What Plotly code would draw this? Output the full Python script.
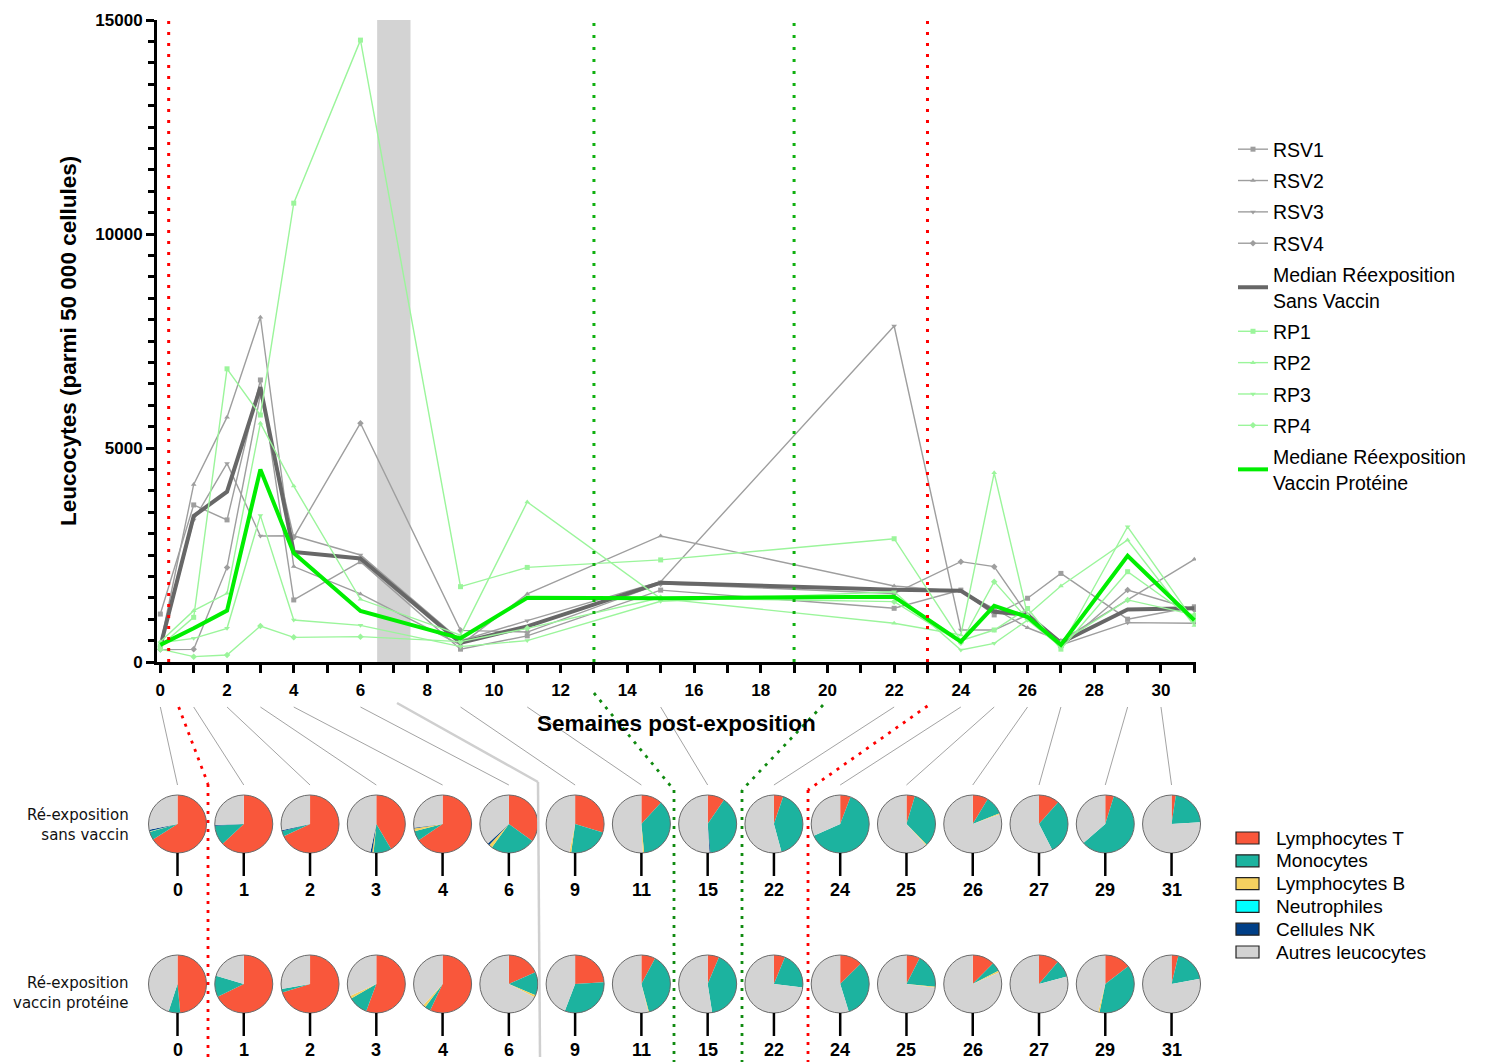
import plotly.graph_objects as go

W, H = 1491, 1062

# ---------------- data ----------------
weeks = [0, 1, 2, 3, 4, 6, 9, 11, 15, 22, 24, 25, 26, 27, 29, 31]

rsv1 = [1120, 3670, 3320, 6590, 1450, 2345, 300, 610, 1680, 1255, 1680, 1100, 1490, 2070, 1000, 1290]
rsv2 = [400, 4150, 5720, 8055, 2230, 1590, 400, 1590, 2945, 1775, 1650, 1250, 800, 500, 1450, 2400]
rsv3 = [330, 3320, 4640, 2945, 2950, 2500, 500, 966, 1877, 7850, 748, 748, 1100, 400, 919, 904]
rsv4 = [290, 296, 2210, 6250, 2913, 5580, 740, 700, 1830, 1600, 2345, 2228, 1100, 350, 1683, 1220]
rsv_median = [360, 3410, 3980, 6420, 2570, 2420, 450, 833, 1853, 1688, 1665, 1175, 1100, 450, 1225, 1255]

rp1 = [374, 1044, 6850, 5770, 10720, 14530, 1760, 2210, 2385, 2880, 500, 748, 1250, 300, 2110, 1000]
rp2 = [475, 1200, 1605, 5580, 4110, 1465, 630, 3740, 1480, 904, 631, 4420, 1100, 1776, 2850, 850]
rp3 = [450, 553, 787, 3420, 982, 857, 360, 500, 1420, 1640, 280, 436, 980, 350, 3160, 950]
rp4 = [300, 125, 164, 841, 576, 592, 475, 787, 1500, 1410, 450, 1877, 1000, 450, 1450, 1100]
rp_median = [400, 787, 1200, 4500, 2545, 1192, 553, 1500, 1490, 1525, 475, 1312, 1050, 400, 2480, 975]

pie_labels = ["Lymphocytes T", "Monocytes", "Lymphocytes B", "Neutrophiles", "Cellules NK", "Autres leucocytes"]
pie_colors = ["#F9573B", "#1CB39F", "#F5D160", "#00FFFF", "#003F87", "#D3D3D3"]

# fractions per time point: [T, Mono, B, Neutro, NK, Autres]
top_fracs = [
    [0.660, 0.045, 0.003, 0.002, 0.008, 0.282],
    [0.630, 0.110, 0.000, 0.000, 0.005, 0.255],
    [0.680, 0.030, 0.000, 0.000, 0.005, 0.285],
    [0.415, 0.100, 0.008, 0.000, 0.010, 0.467],
    [0.655, 0.055, 0.015, 0.000, 0.005, 0.270],
    [0.350, 0.250, 0.020, 0.000, 0.010, 0.370],
    [0.297, 0.225, 0.010, 0.000, 0.000, 0.468],
    [0.118, 0.367, 0.008, 0.000, 0.000, 0.507],
    [0.095, 0.390, 0.000, 0.000, 0.005, 0.510],
    [0.052, 0.406, 0.000, 0.000, 0.000, 0.542],
    [0.058, 0.625, 0.000, 0.000, 0.000, 0.317],
    [0.047, 0.330, 0.005, 0.000, 0.000, 0.618],
    [0.086, 0.103, 0.006, 0.000, 0.000, 0.805],
    [0.115, 0.310, 0.000, 0.000, 0.000, 0.575],
    [0.048, 0.588, 0.000, 0.000, 0.000, 0.364],
    [0.024, 0.216, 0.000, 0.000, 0.000, 0.760],
]
bot_fracs = [
    [0.485, 0.065, 0.000, 0.000, 0.000, 0.450],
    [0.678, 0.118, 0.000, 0.000, 0.000, 0.204],
    [0.703, 0.020, 0.000, 0.000, 0.000, 0.277],
    [0.557, 0.110, 0.015, 0.000, 0.000, 0.318],
    [0.570, 0.033, 0.015, 0.000, 0.000, 0.382],
    [0.183, 0.131, 0.012, 0.000, 0.000, 0.674],
    [0.240, 0.318, 0.000, 0.000, 0.000, 0.442],
    [0.078, 0.380, 0.004, 0.000, 0.000, 0.538],
    [0.064, 0.411, 0.000, 0.000, 0.000, 0.525],
    [0.062, 0.207, 0.000, 0.000, 0.000, 0.731],
    [0.126, 0.326, 0.000, 0.000, 0.000, 0.548],
    [0.075, 0.190, 0.005, 0.000, 0.000, 0.730],
    [0.124, 0.050, 0.010, 0.000, 0.000, 0.816],
    [0.112, 0.096, 0.000, 0.000, 0.000, 0.792],
    [0.146, 0.386, 0.008, 0.000, 0.000, 0.460],
    [0.038, 0.183, 0.000, 0.000, 0.000, 0.779],
]
# week on the x axis from which each connector line starts
connector_weeks = [0, 1, 2, 3, 4, 6, 9, 11, 15, 22, 24, 25, 26, 27, 29, 30]

x_ticks = list(range(0, 31, 2))
y_ticks = [0, 5000, 10000, 15000]

# ---------------- layout helpers ----------------
OFF = 8   # page body margin compensation

def fx(p):
    return (p - OFF) / W

def fy(p):
    return 1 - (p - OFF) / H

X_L, X_R = 157, 1196          # plot area px
Y_T, Y_B = 20, 662
XMIN, XMAX = -0.1, 31.05

def wx(w):
    return X_L + (w - XMIN) / (XMAX - XMIN) * (X_R - X_L)

FONT = "Liberation Sans, Arial, sans-serif"

fig = go.Figure()

gray_ind = "#9E9E9E"
gray_med = "#676767"
green_ind = "#9BF59B"
green_med = "#00EE00"

series = [
    ("RSV1", rsv1, gray_ind, "square"),
    ("RSV2", rsv2, gray_ind, "triangle-up"),
    ("RSV3", rsv3, gray_ind, "triangle-down"),
    ("RSV4", rsv4, gray_ind, "diamond"),
]
for name, vals, col, sym in series:
    fig.add_trace(go.Scatter(x=weeks, y=vals, name=name, mode="lines+markers",
                             line=dict(color=col, width=1.4),
                             marker=dict(symbol=sym, size=5, color=col),
                             legendgroup=name))
fig.add_trace(go.Scatter(x=weeks, y=rsv_median, name="Median Réexposition<br>Sans Vaccin",
                         mode="lines", line=dict(color=gray_med, width=4), legendgroup="medrsv"))
series_rp = [
    ("RP1", rp1, green_ind, "square"),
    ("RP2", rp2, green_ind, "triangle-up"),
    ("RP3", rp3, green_ind, "triangle-down"),
    ("RP4", rp4, green_ind, "diamond"),
]
for name, vals, col, sym in series_rp:
    fig.add_trace(go.Scatter(x=weeks, y=vals, name=name, mode="lines+markers",
                             line=dict(color=col, width=1.4),
                             marker=dict(symbol=sym, size=5, color=col),
                             legendgroup=name))
fig.add_trace(go.Scatter(x=weeks, y=rp_median, name="Mediane Réexposition<br>Vaccin Protéine",
                         mode="lines", line=dict(color=green_med, width=4), legendgroup="medrp"))

# ---------------- pies ----------------
R = 29
pie_cx = [177.5 + i * 66.27 for i in range(len(weeks))]
row_cy = [824, 984]
shapes = []
annotations = []

for row, fracs in enumerate([top_fracs, bot_fracs]):
    cy = row_cy[row]
    for i, fr in enumerate(fracs):
        cx = pie_cx[i]
        fig.add_trace(go.Pie(
            labels=pie_labels, values=fr, sort=False, direction="clockwise", rotation=0,
            marker=dict(colors=pie_colors, line=dict(color="#444444", width=0)),
            textinfo="none", hoverinfo="label+percent",
            domain=dict(x=[fx(cx - R), fx(cx + R)], y=[fy(cy + R), fy(cy - R)]),
            showlegend=False,
        ))
        shapes.append(dict(type="circle", xref="paper", yref="paper",
                           x0=fx(cx - R), x1=fx(cx + R), y0=fy(cy + R), y1=fy(cy - R),
                           line=dict(color="#6A6A6A", width=1)))
        shapes.append(dict(type="line", xref="paper", yref="paper",
                           x0=fx(cx), x1=fx(cx), y0=fy(cy + R), y1=fy(cy + R + 23),
                           line=dict(color="black", width=2.5)))
        annotations.append(dict(text=str(weeks[i]), xref="paper", yref="paper",
                                x=fx(cx), y=fy(cy + 66), showarrow=False,
                                font=dict(family=FONT, size=18, color="black", weight="bold"),
                                xanchor="center", yanchor="middle"))

# pie colour key
for k, (lab, col) in enumerate(zip(pie_labels, pie_colors)):
    yc = 838 + k * 22.8
    shapes.append(dict(type="rect", xref="paper", yref="paper",
                       x0=fx(1236), x1=fx(1259), y0=fy(yc + 6), y1=fy(yc - 6),
                       fillcolor=col, line=dict(color="#222222", width=1.2)))
    annotations.append(dict(text=lab, xref="paper", yref="paper", x=fx(1274), y=fy(yc),
                            xanchor="left", yanchor="middle", showarrow=False,
                            font=dict(family=FONT, size=19, color="black")))

# connector lines axis -> top pies
for i, w in enumerate(connector_weeks):
    shapes.append(dict(type="line", xref="paper", yref="paper",
                       x0=fx(wx(w)), y0=fy(707), x1=fx(pie_cx[i]), y1=fy(785),
                       line=dict(color="#8C8C8C", width=0.8)))

# shaded region + reference lines in chart
shapes.append(dict(type="rect", xref="x", yref="y", x0=6.5, x1=7.5, y0=0, y1=15000,
                   fillcolor="#D3D3D3", line=dict(width=0), layer="below"))
for xv, col, dash in [(0.25, "#FF0000", "3px,8px"), (23, "#FF0000", "3px,8px"),
                      (13, "#10B010", "3px,9px"), (19, "#10B010", "3px,9px")]:
    shapes.append(dict(type="line", xref="x", yref="y", x0=xv, x1=xv, y0=0, y1=15000,
                       line=dict(color=col, width=3, dash=dash)))

# continuations below the axis
def poly(pts, color, width, dash=None):
    for (xa, ya), (xb, yb) in zip(pts[:-1], pts[1:]):
        ln = dict(color=color, width=width)
        if dash:
            ln["dash"] = dash
        shapes.append(dict(type="line", xref="paper", yref="paper",
                           x0=fx(xa), y0=fy(ya), x1=fx(xb), y1=fy(yb), line=ln))

poly([(wx(0.55), 707), (208, 784), (208, 1062)], "#FF0000", 2.8, "3px,6px")
poly([(wx(23), 706), (808, 790), (808, 1062)], "#FF0000", 2.8, "3px,6px")
poly([(wx(13), 693), (674, 790), (674, 1062)], "#108A10", 2.8, "3px,6px")
poly([(823, 705), (742, 790), (742, 1062)], "#108A10", 2.8, "3px,6px")
poly([(397, 703), (538, 782), (540, 1057)], "#CFCFCF", 2.5)

# row labels & axis titles
annotations.append(dict(text="Ré-exposition<br>sans vaccin", xref="paper", yref="paper",
                        x=fx(131), y=fy(825), xanchor="right", yanchor="middle", align="right",
                        showarrow=False, font=dict(family="DejaVu Sans", size=15, color="#111")))
annotations.append(dict(text="Ré-exposition<br>vaccin protéine", xref="paper", yref="paper",
                        x=fx(131), y=fy(993), xanchor="right", yanchor="middle", align="right",
                        showarrow=False, font=dict(family="DejaVu Sans", size=15, color="#111")))
annotations.append(dict(text="Leucocytes (parmi 50 000 cellules)", xref="paper", yref="paper",
                        x=fx(68), y=fy(341), textangle=-90, showarrow=False,
                        xanchor="center", yanchor="middle",
                        font=dict(family=FONT, size=22.5, color="black", weight="bold")))
annotations.append(dict(text="Semaines post-exposition", xref="paper", yref="paper",
                        x=fx(676), y=fy(723), showarrow=False, xanchor="center", yanchor="middle",
                        font=dict(family=FONT, size=22.5, color="black", weight="bold")))

fig.update_layout(
    width=W, height=H,
    margin=dict(l=0, r=0, t=0, b=0, autoexpand=False),
    paper_bgcolor="white", plot_bgcolor="white",
    xaxis=dict(domain=[fx(X_L), fx(X_R)], range=[XMIN, XMAX], automargin=False,
               tickvals=x_ticks, ticktext=[str(t) for t in x_ticks],
               ticks="outside", ticklen=8, tickwidth=2.5, tickcolor="black",
               minor=dict(dtick=1, tick0=0, ticks="outside", ticklen=8, tickwidth=2.5, tickcolor="black"),
               showline=True, linecolor="black", linewidth=3, showgrid=False, zeroline=False,
               tickfont=dict(family=FONT, size=17, color="black", weight="bold"),
               ticklabelstandoff=3),
    yaxis=dict(domain=[fy(Y_B), fy(Y_T)], range=[0, 15000], automargin=False,
               tickvals=y_ticks, ticktext=[str(t) for t in y_ticks],
               ticks="outside", ticklen=8, tickwidth=2.5, tickcolor="black",
               minor=dict(dtick=500, tick0=0, ticks="outside", ticklen=6, tickwidth=2.5, tickcolor="black"),
               showline=True, linecolor="black", linewidth=3, showgrid=False, zeroline=False,
               tickfont=dict(family=FONT, size=17, color="black", weight="bold")),
    legend=dict(x=fx(1233), y=fy(130), xanchor="left", yanchor="top",
                font=dict(family=FONT, size=19.5, color="black"),
                tracegroupgap=3, itemwidth=30, bgcolor="rgba(0,0,0,0)", traceorder="grouped"),
    shapes=shapes,
    annotations=annotations,
)

fig.write_html("out.html")
